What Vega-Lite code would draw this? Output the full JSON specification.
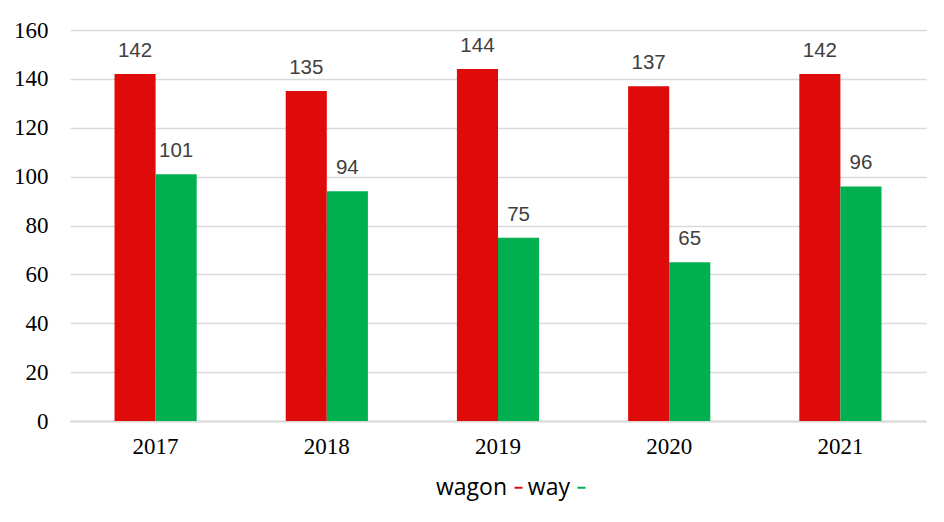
{
  "$schema": "https://vega.github.io/schema/vega-lite/v6.json",
  "autosize": {"type": "none"},
  "width": 856,
  "height": 391,
  "padding": {"left": 70, "top": 30, "right": 18, "bottom": 101},
  "background": "white",
  "config": {
    "view": {"stroke": null},
    "axis": {"labelFont": "Liberation Serif", "labelFontSize": 23, "labelColor": "#000000", "labelFontWeight": "normal", "title": null}
  },
  "data": {
    "values": [
      {"year": "2017", "series": "wagon", "value": 142},
      {"year": "2017", "series": "way", "value": 101},
      {"year": "2018", "series": "wagon", "value": 135},
      {"year": "2018", "series": "way", "value": 94},
      {"year": "2019", "series": "wagon", "value": 144},
      {"year": "2019", "series": "way", "value": 75},
      {"year": "2020", "series": "wagon", "value": 137},
      {"year": "2020", "series": "way", "value": 65},
      {"year": "2021", "series": "wagon", "value": 142},
      {"year": "2021", "series": "way", "value": 96}
    ]
  },
  "encoding": {
    "x": {
      "field": "year", "type": "nominal",
      "scale": {"paddingInner": 0.52, "paddingOuter": 0.26},
      "axis": {
        "labelAngle": 0, "ticks": false,
        "domainColor": "#d9d9d9", "domainWidth": 2,
        "labelPadding": 14
      }
    },
    "xOffset": {"field": "series", "type": "nominal", "scale": {"domain": ["wagon", "way"], "paddingInner": 0}},
    "y": {
      "field": "value", "type": "quantitative",
      "scale": {"domain": [0, 160], "nice": false},
      "axis": {
        "values": [0, 20, 40, 60, 80, 100, 120, 140, 160],
        "domain": false, "ticks": false,
        "gridColor": "#d9d9d9", "gridWidth": 1.5,
        "labelFont": "Liberation Serif",
        "labelPadding": 22
      }
    }
  },
  "layer": [
    {
      "mark": {"type": "bar"},
      "encoding": {
        "color": {
          "field": "series", "type": "nominal",
          "scale": {"domain": ["wagon", "way"], "range": ["#DF0B0B", "#00AF4F"]},
          "legend": {
            "title": null, "orient": "none", "direction": "horizontal",
            "legendX": 437, "legendY": 446,
            "symbolType": "M-1,-0.25H1V0.25H-1Z", "symbolSize": 64, "symbolStrokeWidth": 0,
            "labelFont": "Open Sans", "labelFontSize": 23, "labelColor": "#000000",
            "labelAlign": "right", "labelOffset": -23, "columnPadding": 4
          }
        }
      }
    },
    {
      "mark": {"type": "text", "baseline": "alphabetic", "dy": -17, "font": "Liberation Sans", "fontSize": 20.5, "color": "#404040"},
      "encoding": {"text": {"field": "value", "type": "quantitative"}}
    }
  ]
}
